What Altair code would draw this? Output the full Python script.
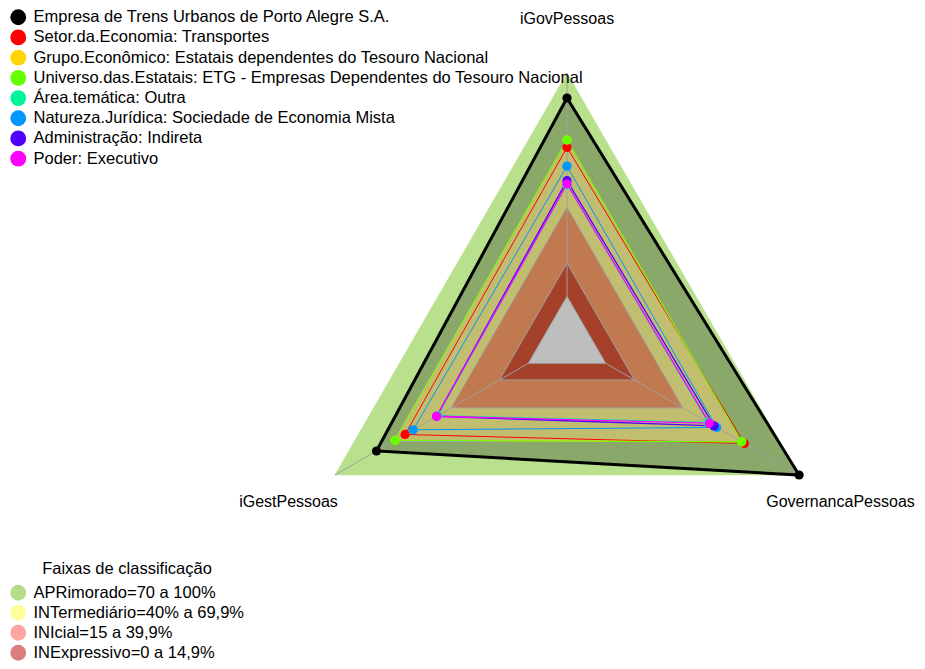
import altair as alt
import pandas as pd

# ---------------- data ----------------
AXES = ["iGovPessoas", "iGestPessoas", "GovernancaPessoas"]

SERIES = [
    "Empresa de Trens Urbanos de Porto Alegre S.A.",
    "Setor.da.Economia: Transportes",
    "Grupo.Econômico: Estatais dependentes do Tesouro Nacional",
    "Universo.das.Estatais: ETG - Empresas Dependentes do Tesouro Nacional",
    "Área.temática: Outra",
    "Natureza.Jurídica: Sociedade de Economia Mista",
    "Administração: Indireta",
    "Poder: Executivo",
]
SERIES_COLORS = ["#000000", "#FF0000", "#FFD400", "#66FF00",
                 "#00F59A", "#0096FF", "#5000FF", "#FF00FF"]
SERIES_WIDTH = [3, 1, 1, 1, 1, 1, 1.3, 1.3]

GOV = [0.888, 0.667, 0.700, 0.700, 0.500, 0.583, 0.518, 0.503]
GEST = [0.785, 0.637, 0.689, 0.689, 0.468, 0.595, 0.474, 0.474]
GOVERNANCA = [1.000, 0.717, 0.703, 0.703, 0.528, 0.574, 0.560, 0.536]

BANDS = ["APRimorado=70 a 100%", "INTermediário=40% a 69,9%",
         "INIcial=15 a 39,9%", "INExpressivo=0 a 14,9%"]
BAND_UPPER = [1.0, 0.699, 0.399, 0.149]
BAND_LEGEND_COLORS = ["#B5DD89", "#FFFF99", "#FFA3A3", "#DC7E7E"]
# colours of the regions as they appear (overlaid fills)
REGION_OUTER = "#B8E08D"
REGION_INSIDE_COMPANY = "#8AA869"
BAND_REGION_COLORS = ["#C2BE6F", "#C17A50", "#A5412B"]
CENTER_COLOR = "#BEBEBE"
GRID_COLOR = "#A0A0A0"

FONT = "Liberation Sans"
LEGEND_FS = 16.5
AXIS_FS = 16

# ---------------- geometry helpers (through scales) ----------------
W, H = 909, 653
CX, CY, R = 559, 333, 268
X_DOM = [-CX / R, (W - CX) / R]
Y_DOM = [-(H - CY) / R, CY / R]

xs = alt.Scale(domain=X_DOM, nice=False, zero=False)
ys = alt.Scale(domain=Y_DOM, nice=False, zero=False)


def ring(vals, **extra):
    rows = []
    for i in range(4):
        d = {"idx": i, "v": vals[i % 3]}
        d.update(extra)
        rows.append(d)
    return pd.DataFrame(rows)


def radar(ch, rexpr="1/6 + 5/6*datum.v"):
    return ch.transform_calculate(
        r=rexpr, ang="PI/2 + datum.idx*2*PI/3"
    ).transform_calculate(
        px="datum.r*cos(datum.ang)", py="datum.r*sin(datum.ang)"
    )


def xy():
    return dict(
        x=alt.X("px:Q", scale=xs, axis=None),
        y=alt.Y("py:Q", scale=ys, axis=None),
        order=alt.Order("idx:Q"),
    )


common_legend = dict(
    labelFont=FONT, labelFontSize=LEGEND_FS, labelColor="#000000",
    symbolType="circle", symbolSize=250, symbolStrokeWidth=0,
    symbolOpacity=1, labelOffset=7, labelLimit=0, padding=0,
)

layers = []

# dummy layer providing the classification legend
band_df = pd.DataFrame({"band": BANDS, "idx": [0] * 4, "v": [0.0] * 4})
layers.append(
    radar(alt.Chart(band_df)).mark_circle(size=10, opacity=0).encode(
        x=alt.X("px:Q", scale=xs, axis=None),
        y=alt.Y("py:Q", scale=ys, axis=None),
        fill=alt.Fill(
            "band:N",
            scale=alt.Scale(domain=BANDS, range=BAND_LEGEND_COLORS),
            legend=alt.Legend(
                title="Faixas de classificação", orient="none",
                legendX=2, legendY=553, titleAnchor="middle",
                titleFontSize=LEGEND_FS, titleFontWeight="normal",
                titleFont=FONT, titleColor="#000000", titlePadding=7,
                rowPadding=3, **common_legend,
            ),
        ),
    )
)

# outer band (100%)
layers.append(
    radar(alt.Chart(ring([BAND_UPPER[0]] * 3))).mark_line(
        fill=REGION_OUTER, stroke=REGION_OUTER, strokeWidth=0.5
    ).encode(**xy())
)
# company polygon fill
layers.append(
    radar(alt.Chart(ring([GOV[0], GEST[0], GOVERNANCA[0]]))).mark_line(
        fill=REGION_INSIDE_COMPANY, stroke=REGION_INSIDE_COMPANY, strokeWidth=0.5
    ).encode(**xy())
)
# inner bands
for lim, col in zip(BAND_UPPER[1:], BAND_REGION_COLORS):
    layers.append(
        radar(alt.Chart(ring([lim] * 3))).mark_line(
            fill=col, stroke=GRID_COLOR, strokeWidth=1
        ).encode(**xy())
    )
# center (0 level)
layers.append(
    radar(alt.Chart(ring([0.0] * 3))).mark_line(
        fill=CENTER_COLOR, stroke=GRID_COLOR, strokeWidth=1
    ).encode(**xy())
)

# axis spokes
spokes = pd.DataFrame({"idx": [0, 1, 2], "axis": AXES})
layers.append(
    alt.Chart(spokes).transform_calculate(
        ang="PI/2 + datum.idx*2*PI/3"
    ).transform_calculate(
        x0="(1/6)*cos(datum.ang)", y0="(1/6)*sin(datum.ang)",
        x1="cos(datum.ang)", y1="sin(datum.ang)",
    ).mark_rule(color=GRID_COLOR, strokeWidth=1).encode(
        x=alt.X("x0:Q", scale=xs, axis=None),
        y=alt.Y("y0:Q", scale=ys, axis=None),
        x2="x1:Q", y2="y1:Q",
    )
)

# series lines
for name, col, w, a, b, c in zip(SERIES, SERIES_COLORS, SERIES_WIDTH,
                                  GOV, GEST, GOVERNANCA):
    layers.append(
        radar(alt.Chart(ring([a, b, c], series=name))).mark_line(
            stroke=col, strokeWidth=w
        ).encode(**xy())
    )

# series points
pts = []
for name, a, b, c in zip(SERIES, GOV, GEST, GOVERNANCA):
    for i, v in enumerate([a, b, c]):
        pts.append({"series": name, "idx": i, "v": v})
pts_df = pd.DataFrame(pts)
layers.append(
    radar(alt.Chart(pts_df)).mark_circle(size=85, opacity=1).encode(
        x=alt.X("px:Q", scale=xs, axis=None),
        y=alt.Y("py:Q", scale=ys, axis=None),
        color=alt.Color(
            "series:N",
            scale=alt.Scale(domain=SERIES, range=SERIES_COLORS),
            legend=alt.Legend(
                title=None, orient="none", legendX=2, legendY=1,
                rowPadding=3.2, **common_legend,
            ),
        ),
    )
)

# axis labels (the right-hand one nudged to stay inside the page)
lab_df = pd.DataFrame({"idx": [0, 1, 2], "axis": AXES, "v": [0, 0, 0]})
for flt, dx in [("datum.idx < 2", 0), ("datum.idx == 2", -5)]:
    layers.append(
        radar(alt.Chart(lab_df).transform_filter(flt), rexpr="1.2").mark_text(
            font=FONT, fontSize=AXIS_FS, color="#000000", align="center",
            baseline="middle", dx=dx
        ).encode(
            x=alt.X("px:Q", scale=xs, axis=None),
            y=alt.Y("py:Q", scale=ys, axis=None),
            text="axis:N",
        )
    )

chart = alt.layer(*layers).properties(
    width=W, height=H, padding=0,
    autosize=alt.AutoSizeParams(type="none"),
    background="#FFFFFF",
).configure_view(stroke=None)

chart.save("out.html", embed_options={"renderer": "svg", "actions": False})
